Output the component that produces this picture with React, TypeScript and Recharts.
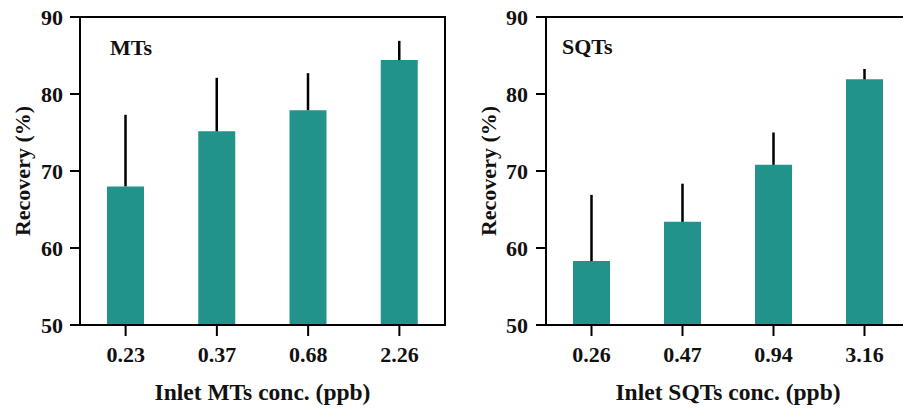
import React from 'react';
import {
  BarChart,
  Bar,
  XAxis,
  YAxis,
  ErrorBar,
  ReferenceArea,
} from 'recharts';

const BAR_COLOR = '#21938A';
const FONT = '"Liberation Serif", "Times New Roman", serif';

// MTs panel
const mtsConc = ['0.23', '0.37', '0.68', '2.26'];
const mtsRecovery = [68.0, 75.15, 77.9, 84.4];
const mtsErr = [9.3, 6.95, 4.8, 2.5];

// SQTs panel
const sqtsConc = ['0.26', '0.47', '0.94', '3.16'];
const sqtsRecovery = [58.3, 63.4, 70.8, 81.9];
const sqtsErr = [8.6, 4.95, 4.2, 1.35];

const yTicks = [50, 60, 70, 80, 90];

const tickStyle = { fontSize: 22, fill: '#111', fontFamily: FONT, fontWeight: 700 };

type PanelProps = {
  left: number;
  width: number;
  yAxisWidth: number;
  labelOffset: number;
  yTickMargin: number;
  conc: string[];
  recovery: number[];
  err: number[];
  xLabel: string;
};

function Panel({ left, width, yAxisWidth, labelOffset, yTickMargin, conc, recovery, err, xLabel }: PanelProps) {
  // error bars only go upwards: [low, high]
  const data = conc.map((c, i) => ({ conc: c, value: recovery[i], err: [0, err[i]] }));

  return (
    <div style={{ position: 'absolute', left, top: 0 }}>
      <BarChart
        width={width}
        height={410}
        data={data}
        margin={{ top: 17, right: 15, left: 0, bottom: 0 }}
        barCategoryGap={0}
      >
        <ReferenceArea y1={50} y2={90} fill="none" stroke="#000" strokeWidth={2} ifOverflow="visible" />
        <XAxis
          dataKey="conc"
          height={85}
          tickSize={11}
          tickMargin={10}
          tick={tickStyle}
          axisLine={{ stroke: '#000', strokeWidth: 2 }}
          tickLine={{ stroke: '#000', strokeWidth: 2 }}
          label={{
            value: xLabel,
            position: 'insideBottom',
            offset: 10,
            style: { fontSize: 23.5, fill: '#111', fontFamily: FONT, fontWeight: 700 },
          }}
        />
        <YAxis
          type="number"
          domain={[50, 90]}
          ticks={yTicks}
          width={yAxisWidth}
          tickSize={10}
          tickMargin={yTickMargin}
          tick={tickStyle}
          axisLine={{ stroke: '#000', strokeWidth: 2 }}
          tickLine={{ stroke: '#000', strokeWidth: 2 }}
          allowDataOverflow
          label={{
            value: 'Recovery (%)',
            angle: -90,
            position: 'insideLeft',
            offset: labelOffset,
            style: { fontSize: 22, fill: '#111', fontFamily: FONT, fontWeight: 700, textAnchor: 'middle' },
          }}
        />
        <Bar dataKey="value" fill={BAR_COLOR} barSize={37} isAnimationActive={false}>
          <ErrorBar dataKey="err" direction="y" width={0} stroke="#000" strokeWidth={2.5} isAnimationActive={false} />
        </Bar>
      </BarChart>
    </div>
  );
}

const innerLabel: React.CSSProperties = {
  position: 'absolute',
  fontFamily: FONT,
  fontWeight: 700,
  fontSize: 22,
  lineHeight: 1,
  color: '#111',
};

export default function App() {
  return (
    <div
      style={{
        position: 'absolute',
        left: 0,
        top: 0,
        width: 903,
        height: 410,
        overflow: 'hidden',
        background: '#fff',
      }}
    >
      <Panel
        left={0}
        width={460}
        yAxisWidth={80}
        labelOffset={22}
        yTickMargin={7}
        conc={mtsConc}
        recovery={mtsRecovery}
        err={mtsErr}
        xLabel="Inlet MTs conc. (ppb)"
      />
      <Panel
        left={450}
        width={475}
        yAxisWidth={96}
        labelOffset={38}
        yTickMargin={8}
        conc={sqtsConc}
        recovery={sqtsRecovery}
        err={sqtsErr}
        xLabel="Inlet SQTs conc. (ppb)"
      />
      <div style={{ ...innerLabel, left: 110, top: 37 }}>MTs</div>
      <div style={{ ...innerLabel, left: 562, top: 36 }}>SQTs</div>
    </div>
  );
}
